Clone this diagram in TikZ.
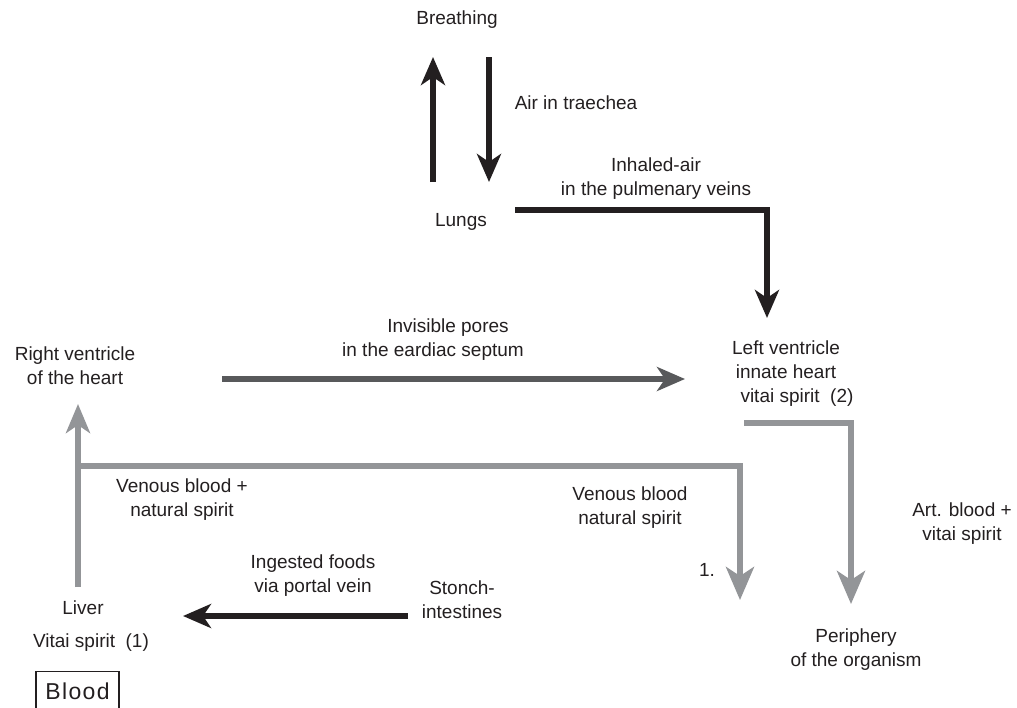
\documentclass[tikz,border=0pt]{standalone}
\usepackage{fontspec}
\setmainfont{Liberation Sans}
\usetikzlibrary{arrows.meta}
\definecolor{ink}{HTML}{231F20}
\definecolor{darkg}{HTML}{58595B}
\definecolor{lightg}{HTML}{939598}
\tikzset{
  lbl/.style={text=ink, font=\fontsize{19}{24}\selectfont, align=center, inner sep=0pt},
  tip/.style={-{Stealth[length=28pt,width=24pt,inset=8pt]}},
  blackarrow/.style={tip, draw=ink, line width=5.5pt, line join=miter},
  darkarrow/.style={tip, draw=darkg, line width=5.5pt, line join=miter},
  grayarrow/.style={-{Stealth[length=33pt,width=28pt,inset=9pt]}, draw=lightg, line width=5.5pt, line join=miter},
  grayup/.style={-{Stealth[length=29pt,width=24pt,inset=8pt]}, draw=lightg, line width=5.5pt},
}
\begin{document}
\begin{tikzpicture}[x=1pt,y=-1pt]
\useasboundingbox (0,0) rectangle (1017,707);
\clip (0,0) rectangle (1017,707);
% texts
\node[lbl] (breathing) at (457,20) {Breathing};
\node[lbl] (lungs) at (461,222) {Lungs};
\node[lbl] (air) at (576,103) {Air in traechea};
\node[lbl] (inhaled) at (656,179) {Inhaled-air\\in the pulmenary veins};
\node[lbl] (left) at (786,374) {Left ventricle\\innate heart\\\hspace*{22pt}vitai spirit\ \ (2)};
\node[lbl] (right) at (75,366) {Right ventricle\\of the heart};
\node[lbl] (pores) at (433,340) {\hspace*{30pt}Invisible pores\\in the eardiac septum};
\node[lbl] (venous1) at (182,500) {Venous blood +\\natural spirit};
\node[lbl] (venous2) at (630,508) {Venous blood\\natural spirit};
\node[lbl] (one) at (707,570) {1.};
\node[lbl] (art) at (962,524) {Art. blood +\\vitai spirit};
\node[lbl] (periphery) at (856,650) {Periphery\\of the organism};
\node[lbl] (liver) at (83,608) {Liver};
\node[lbl] (vital1) at (91,643) {Vitai spirit\ \ (1)};
\node[lbl] (ingested) at (313,576) {Ingested foods\\via portal vein};
\node[lbl] (stomach) at (462,600) {Stonch-\\intestines};
\node[lbl, draw=ink, line width=1.3pt, minimum width=83pt, minimum height=40pt, anchor=north,
  font=\fontsize{23}{26}\selectfont]
  (blood) at (77.5,671) {\addfontfeature{LetterSpace=6}Blood};
% connector end points
\coordinate (upS) at (433,182);
\coordinate (upE) at (433,57);
\coordinate (dnS) at (489,57);
\coordinate (dnE) at (489,182);
\coordinate (inS) at (515,210);
\coordinate (inE) at (767,318);
\coordinate (poS) at (222,379);
\coordinate (poE) at (685,379);
\coordinate (rvS) at (78,587);
\coordinate (rvE) at (78,404);
\coordinate (veS) at (78,466);
\coordinate (veE) at (740,600);
\coordinate (arS) at (744,423);
\coordinate (arE) at (851,604);
\coordinate (foS) at (408,616);
\coordinate (foE) at (183,616);
% connectors
\draw[blackarrow] (upS) -- (upE);
\draw[blackarrow] (dnS) -- (dnE);
\draw[blackarrow] (inS) -| (inE);
\draw[darkarrow] (poS) -- (poE);
\draw[grayup] (rvS) -- (rvE);
\draw[grayarrow] (veS) -| (veE);
\draw[grayarrow] (arS) -| (arE);
\draw[blackarrow] (foS) -- (foE);
\end{tikzpicture}
\end{document}
